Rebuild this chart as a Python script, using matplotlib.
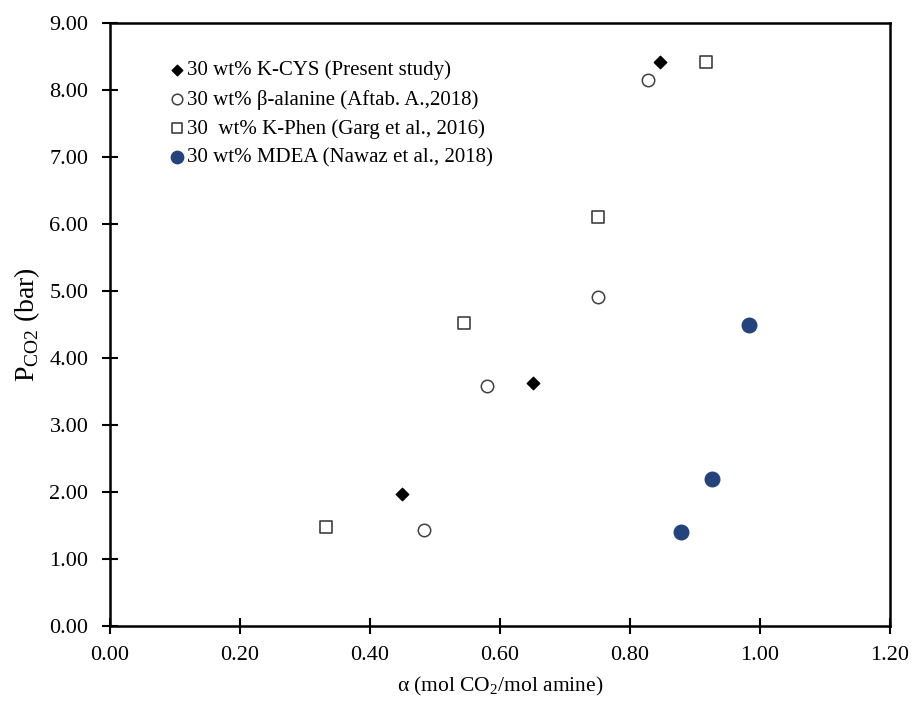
import matplotlib
matplotlib.use("Agg")
import matplotlib.pyplot as plt
from matplotlib.ticker import FormatStrFormatter

plt.rcParams['font.family'] = ['Liberation Serif', 'DejaVu Serif']
plt.rcParams['mathtext.fontset'] = 'custom'
plt.rcParams['mathtext.rm'] = 'Liberation Serif'

# data
kcys_x = [0.450, 0.651, 0.847]
kcys_y = [1.97, 3.63, 8.42]

bala_x = [0.484, 0.580, 0.751, 0.828]
bala_y = [1.43, 3.58, 4.91, 8.15]

kphen_x = [0.332, 0.545, 0.751, 0.918]
kphen_y = [1.47, 4.52, 6.10, 8.42]

mdea_x = [0.879, 0.927, 0.984]
mdea_y = [1.40, 2.20, 4.49]

labels = [
    "30 wt% K-CYS (Present study)",
    "30 wt% \u03b2-alanine (Aftab. A.,2018)",
    "30  wt% K-Phen (Garg et al., 2016)",
    "30 wt% MDEA (Nawaz et al., 2018)",
]

fig = plt.figure(figsize=(9.13, 7.04), dpi=100)
ax = fig.add_axes([0.1205, 0.111, 0.854, 0.856])

ax.scatter(kcys_x, kcys_y, marker='D', s=40, color='black', label=labels[0], zorder=3)
ax.scatter(bala_x, bala_y, marker='o', s=80, facecolor='white', edgecolor='#404040',
           linewidth=1.1, label=labels[1], zorder=3)
ax.scatter(kphen_x, kphen_y, marker='s', s=80, facecolor='white', edgecolor='#303030',
           linewidth=1.1, label=labels[2], zorder=3)
ax.scatter(mdea_x, mdea_y, marker='o', s=110, color='#24437c', label=labels[3], zorder=3)

ax.set_xlim(0, 1.2)
ax.set_ylim(0, 9)
ax.set_xticks([0, 0.2, 0.4, 0.6, 0.8, 1.0, 1.2])
ax.set_yticks(range(10))
ax.xaxis.set_major_formatter(FormatStrFormatter('%.2f'))
ax.yaxis.set_major_formatter(FormatStrFormatter('%.2f'))
ax.tick_params(axis='both', direction='inout', length=11, width=1.5, labelsize=16)
ax.tick_params(axis='x', pad=9)
ax.tick_params(axis='y', pad=10)

for sp in ax.spines.values():
    sp.set_linewidth(1.8)

ax.set_xlabel(r"$\mathrm{\alpha}$ (mol CO$_2$/mol amine)", fontsize=15.5, labelpad=7)
ax.set_ylabel(r"P$_{\mathrm{CO2}}$ (bar)", fontsize=20)
ax.yaxis.set_label_coords(-0.087, 0.50)

leg = ax.legend(loc='upper left', bbox_to_anchor=(0.05, 0.969), frameon=False,
                fontsize=15, handletextpad=0.0, labelspacing=0.45,
                handlelength=0.9, markerscale=0.85)

fig.savefig("out.png", dpi=100)
